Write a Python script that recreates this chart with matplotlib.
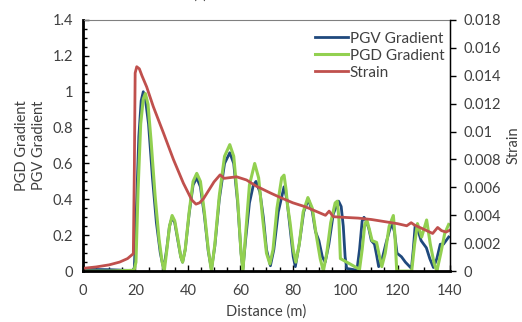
import matplotlib
matplotlib.use("Agg")
import matplotlib.pyplot as plt
from matplotlib.ticker import MultipleLocator

plt.rcParams['font.family'] = ['Lato', 'DejaVu Sans']

# PGV gradient (blue)
pgv_x = [0, 10, 19, 19.6, 20.5, 21.3, 22.2, 23, 23.8, 25, 26.5, 28, 29.5, 30.8,
         32, 33, 34, 35, 36.2, 37.3, 38, 39, 40.5, 42, 43.4, 44.8, 46.3, 47.8, 49,
         50.3, 52, 54, 56, 57.5, 59, 60.3, 61, 62, 63.5, 65, 66, 67.5, 68.8, 70,
         71.5, 72.8, 74.5, 76.7, 77.8, 79, 80.2, 81, 82.5, 84.2, 86, 87.5, 88.7,
         90, 91.3, 92.4, 93.8, 95.5, 97.5, 98.5, 99.3, 100, 100.6, 104.5, 105.5,
         106.5, 107.2, 108, 109, 110, 111.2, 112, 112.8, 114, 115.5, 117, 117.9,
         118.8, 119.8, 121.5, 123, 125.3, 126, 126.7, 127.5, 129, 131, 132.3,
         133.7, 135, 136.3, 137.5, 139.5]
pgv_y = [0.01, 0.008, 0.003, 0.02, 0.4, 0.75, 0.95, 1.0, 0.96, 0.82, 0.52, 0.27,
         0.1, 0.01, 0.13, 0.25, 0.3, 0.27, 0.17, 0.08, 0.05, 0.12, 0.32, 0.48,
         0.52, 0.47, 0.31, 0.11, 0.01, 0.14, 0.4, 0.6, 0.66, 0.6, 0.38, 0.1, 0.01,
         0.17, 0.38, 0.48, 0.5, 0.44, 0.3, 0.12, 0.03, 0.12, 0.33, 0.47, 0.4, 0.24,
         0.08, 0.025, 0.15, 0.33, 0.4, 0.33, 0.22, 0.17, 0.08, 0.05, 0.15, 0.32,
         0.39, 0.36, 0.25, 0.08, 0.015, 0.005, 0.12, 0.28, 0.3, 0.28, 0.24, 0.17,
         0.15, 0.09, 0.025, 0.06, 0.15, 0.23, 0.265, 0.22, 0.1, 0.08, 0.05, 0.015,
         0.12, 0.25, 0.24, 0.17, 0.13, 0.07, 0.02, 0.07, 0.15, 0.15, 0.19]

# PGD gradient (green)
pgd_x = [0, 10, 19.5, 20.2, 21, 22, 23, 23.8, 24.8, 26, 27.5, 29, 30.2, 31, 32,
         33, 34, 35, 36.2, 37.3, 38, 39, 40.5, 42, 43.4, 44.8, 46.3, 47.8, 49,
         50.3, 52, 54, 56, 57.5, 59, 60.3, 61, 62, 63.5, 65.5, 67, 68.5, 70, 71.3,
         72.5, 74, 75.8, 76.7, 77.5, 78, 79, 80.2, 81.2, 82.5, 84, 85.8, 87.5, 89,
         90.5, 91.7, 93, 94.5, 96.2, 97, 97.6, 98.2, 105.5, 106.5, 107.5, 108.3,
         109.3, 110.3, 112, 113, 114, 115.3, 116.8, 118.4, 119, 119.7, 125.4,
         126.5, 127.6, 129.2, 130.2, 131.1, 132.5, 134, 135, 136.5, 138, 139.5]
pgd_y = [0.0, 0.0, 0.005, 0.05, 0.45, 0.82, 0.96, 0.99, 0.93, 0.72, 0.42, 0.18,
         0.05, 0.0, 0.12, 0.25, 0.31, 0.28, 0.18, 0.08, 0.05, 0.12, 0.33, 0.5,
         0.545, 0.5, 0.33, 0.12, 0.0, 0.15, 0.42, 0.64, 0.705, 0.64, 0.4, 0.1,
         0.0, 0.2, 0.48, 0.6, 0.52, 0.3, 0.1, 0.04, 0.12, 0.35, 0.52, 0.535,
         0.45, 0.37, 0.27, 0.12, 0.05, 0.15, 0.33, 0.41, 0.35, 0.2, 0.07, 0.0,
         0.1, 0.27, 0.38, 0.39, 0.3, 0.07, 0.01, 0.12, 0.26, 0.285, 0.23, 0.17,
         0.16, 0.09, 0.025, 0.1, 0.25, 0.31, 0.2, 0.0, 0.0, 0.15, 0.265, 0.19,
         0.24, 0.285, 0.15, 0.04, 0.0, 0.1, 0.21, 0.26]

# Strain (red, right axis)
strain_x = [0, 5, 10, 14, 17, 19.2, 19.6, 19.9, 20.5, 21.5, 22.5, 24.3, 26.8,
            30.7, 34.5, 38.3, 41.5, 43.1, 44.5, 46, 48, 50, 52.3, 53.9, 56,
            58.6, 62.4, 66, 71.5, 75, 80, 85, 90, 92.5, 93.9, 95.5, 100, 105,
            110, 115, 120, 123.5, 125.2, 126.5, 130, 133.4, 135.3, 136.8, 138.5,
            140]
strain_y = [0.0002, 0.0003, 0.00045, 0.00065, 0.0009, 0.00125, 0.0075, 0.0142,
            0.01465, 0.0145, 0.0140, 0.0132, 0.0118, 0.0099, 0.0080, 0.0063,
            0.0051, 0.0048, 0.0049, 0.0052, 0.0058, 0.0064, 0.0069, 0.00665,
            0.0067, 0.00676, 0.00653, 0.0061, 0.0056, 0.0053, 0.0049, 0.0046,
            0.0042, 0.0040, 0.0043, 0.0039, 0.00385, 0.0038, 0.0037, 0.00355,
            0.0034, 0.00325, 0.00347, 0.0033, 0.0030, 0.0027, 0.00313, 0.0029,
            0.0028, 0.00294]

text_col = '#404040'

fig = plt.figure(figsize=(5.22, 3.22), dpi=100)
ax = fig.add_axes([0.159, 0.158, 0.703, 0.78])
ax2 = ax.twinx()

l1, = ax.plot(pgv_x, pgv_y, color='#1f497d', lw=2.0, label='PGV Gradient')
l2, = ax.plot(pgd_x, pgd_y, color='#92d050', lw=2.2, label='PGD Gradient')
l3, = ax2.plot(strain_x, strain_y, color='#c0504d', lw=2.0, label='Strain')

ax.set_xlim(0, 140)
ax.set_ylim(0, 1.4)
ax2.set_ylim(0, 0.018)

ax.xaxis.set_major_locator(MultipleLocator(20))
ax.xaxis.set_minor_locator(MultipleLocator(5))
ax.yaxis.set_major_locator(MultipleLocator(0.2))
ax.yaxis.set_minor_locator(MultipleLocator(0.05))
ax.set_yticks([0, 0.2, 0.4, 0.6, 0.8, 1.0, 1.2, 1.4])
ax.set_yticklabels(['0', '0.2', '0.4', '0.6', '0.8', '1', '1.2', '1.4'])
ax2.set_yticks([0.002 * i for i in range(10)])
ax2.set_yticklabels(['0'] + ['%g' % (0.002 * i) for i in range(1, 10)])

ax.tick_params(axis='both', which='both', direction='in', colors='black',
               labelcolor=text_col, labelsize=10.5)
ax.tick_params(which='major', length=4, width=1)
ax.tick_params(which='minor', length=3, width=1)
ax.tick_params(axis='x', pad=9)
ax.tick_params(axis='y', pad=7)
ax2.tick_params(axis='y', direction='out', length=4, width=1, pad=6,
                labelcolor=text_col, labelsize=10.5)

for sp in ['left', 'bottom']:
    ax.spines[sp].set_linewidth(2)
ax.spines['top'].set_color('#808080')
ax2.spines['top'].set_visible(False)
ax2.spines['right'].set_linewidth(1)

ax.set_xlabel('Distance (m)', color=text_col, fontsize=10.5, labelpad=5)
ax.set_ylabel('PGD Gradient\nPGV Gradient', color=text_col, fontsize=10.5,
              linespacing=1.3, labelpad=5)
ax2.set_ylabel('Strain', color=text_col, fontsize=10.5, labelpad=4)

leg = ax2.legend(handles=[l1, l2, l3], loc='upper right',
                 bbox_to_anchor=(1.01, 0.99), frameon=False, fontsize=11,
                 handlelength=2.2, handletextpad=0.1, labelspacing=0.2,
                 borderaxespad=0.2)
for t in leg.get_texts():
    t.set_color(text_col)

fig.text(0.368, 0.994, '(a)', color=text_col, fontsize=10.5, va='bottom')

fig.savefig('out.png', dpi=100)
